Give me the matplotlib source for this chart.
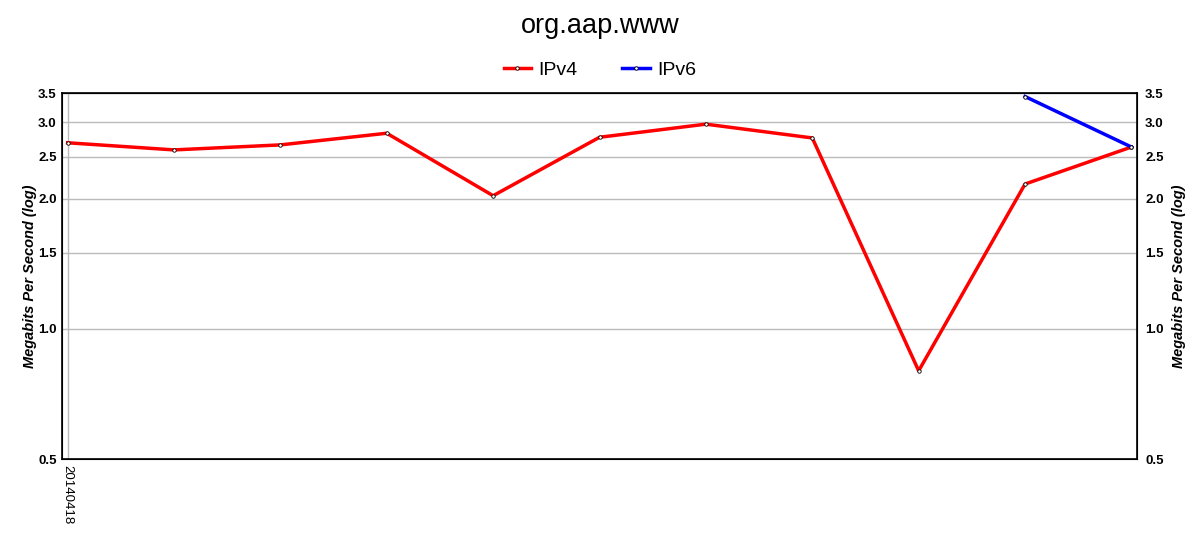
import matplotlib.pyplot as plt
from matplotlib.ticker import FixedLocator, FixedFormatter, NullLocator

plt.rcParams['font.family'] = ['Liberation Sans', 'DejaVu Sans']

# Data
dates = ["20140418"]
ipv4 = [2.69, 2.59, 2.66, 2.83, 2.03, 2.77, 2.97, 2.76, 0.80, 2.16, 2.63]
ipv6_x = [9, 10]
ipv6 = [3.44, 2.63]
yticks = [0.5, 1.0, 1.5, 2.0, 2.5, 3.0, 3.5]

fig = plt.figure(figsize=(12, 5.5), dpi=100)
ax = fig.add_axes([0.0519, 0.1651, 0.8954, 0.6653])

marker_style = dict(marker='o', markersize=2.5, markerfacecolor='white',
                    markeredgecolor='black', markeredgewidth=0.6)
ax.plot(range(len(ipv4)), ipv4, color='#ff0000', lw=2.5, label='IPv4', **marker_style, zorder=3)
ax.plot(ipv6_x, ipv6, color='#0000ff', lw=2.5, label='IPv6', **marker_style, zorder=4)

ax.set_yscale('log')
ax.set_ylim(0.5, 3.5)
ax.set_xlim(-0.05, 10.05)
ax.yaxis.set_major_locator(FixedLocator(yticks))
ax.yaxis.set_major_formatter(FixedFormatter([f"{v:.1f}" for v in yticks]))
ax.yaxis.set_minor_locator(NullLocator())
ax.set_xticks([0])
ax.set_xticklabels(dates, rotation=-90, fontsize=9.5)
ax.tick_params(axis='both', length=0, pad=4)
ax.tick_params(axis='y', labelsize=9.5)
for lab in ax.get_yticklabels():
    lab.set_fontweight('bold')
ax.grid(True, color='#bbbbbb', lw=1)
ax.set_axisbelow(True)
for s in ax.spines.values():
    s.set_linewidth(1.2)

ax.set_ylabel("Megabits Per Second (log)", fontsize=10.5, fontweight='bold', style='italic', labelpad=1)

ax2 = ax.twinx()
ax2.set_yscale('log')
ax2.set_ylim(0.5, 3.5)
ax2.yaxis.set_major_locator(FixedLocator(yticks))
ax2.yaxis.set_major_formatter(FixedFormatter([f"{v:.1f}" for v in yticks]))
ax2.yaxis.set_minor_locator(NullLocator())
ax2.tick_params(axis='y', length=0, pad=6, labelsize=9.5)
for lab in ax2.get_yticklabels():
    lab.set_fontweight('bold')
ax2.set_ylabel("Megabits Per Second (log)", fontsize=10.5, fontweight='bold', style='italic', labelpad=6)

fig.suptitle("org.aap.www", fontsize=19.5, y=0.977)
fig.legend(loc='upper center', bbox_to_anchor=(0.5, 0.921), ncol=2, frameon=False,
           fontsize=14, handlelength=1.4, handletextpad=0.4, columnspacing=2.3)

plt.savefig("out.png", dpi=100)
